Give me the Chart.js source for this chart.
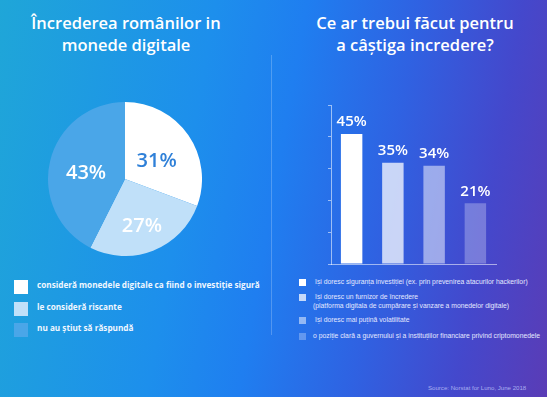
<!DOCTYPE html>
<html>
<head>
<meta charset="utf-8">
<script src="https://cdn.jsdelivr.net/npm/chart.js@4"></script>
<style>
  html, body { margin: 0; padding: 0; }
  body {
    width: 547px; height: 397px; position: relative; overflow: hidden;
    background: linear-gradient(100deg, #1fa6d8 0%, #1d8fec 35%, #1f7ef0 50%, #2f62e2 68%, #4448cc 85%, #5a3cb6 100%);
    font-family: "Open Sans", "DejaVu Sans", sans-serif;
    color: #fff;
  }
  .title { position: absolute; text-align: center; font-size: 16.5px; font-weight: 600; line-height: 22px; }
  #divider { position: absolute; left: 271px; top: 55px; width: 1px; height: 280px; background: rgba(255,255,255,0.22); }
  .box { position: absolute; }
  #pieLegend div, #barLegend div { position: absolute; white-space: nowrap; }
  .lsq { position: absolute; }
  #source { position: absolute; left: 428px; top: 384px; font-family: "Liberation Sans", Arial, sans-serif; font-size: 6.1px; color: #a9aef0; }
</style>
</head>
<body>
<div class="title" style="left:16px; top:12px; width:220px;">Încrederea românilor in<br>monede digitale</div>
<div class="title" style="left:300px; top:12px; width:230px;">Ce ar trebui făcut pentru<br>a câștiga incredere?</div>
<div id="divider"></div>

<div class="box" style="left:48px; top:102px; width:154px; height:154px;"><canvas id="pie"></canvas></div>
<div class="box" style="left:328px; top:95px; width:180px; height:182px;"><canvas id="bar"></canvas></div>

<div id="pieLegend"></div>
<div id="barLegend"></div>
<div id="source">Source: Norstat for Luno, June 2018</div>

<script>
// pie: trust in digital currencies
const pieLabels = [
  'consideră monedele digitale ca fiind o investiție sigură',
  'le consideră riscante',
  'nu au știut să răspundă'
];
const pieValues = [31, 27, 43];
const pieColors = ['#ffffff', '#c0e0f9', '#4aa6e8'];
const pieTextColors = ['#2f80d8', '#ffffff', '#ffffff'];

// bars: what should be done to gain trust
const barLabels = [
  ['își doresc siguranța investiției (ex. prin prevenirea atacurilor hackerilor)'],
  ['își doresc un furnizor de încredere', '(platforma digitala de cumpărare și vanzare a monedelor digitale)'],
  ['își doresc mai puțină volatilitate'],
  ['o poziție clară a guvernului și a instituțiilor financiare privind criptomonedele']
];
const barValues = [45, 35, 34, 21];
const barColors = ['rgba(255,255,255,1)', 'rgba(255,255,255,0.74)', 'rgba(255,255,255,0.5)', 'rgba(255,255,255,0.28)'];

// value labels drawn on top of the marks
const valueLabels = {
  id: 'valueLabels',
  afterDatasetsDraw(chart, args, opts) {
    const ctx = chart.ctx;
    const meta = chart.getDatasetMeta(0);
    ctx.save();
    ctx.font = opts.font;
    ctx.textAlign = 'center';
    ctx.textBaseline = 'middle';
    meta.data.forEach((el, i) => {
      const v = chart.data.datasets[0].data[i];
      let x, y;
      if (chart.config.type === 'pie') {
        const mid = (el.startAngle + el.endAngle) / 2;
        const r = el.outerRadius * opts.radius[i];
        x = el.x + Math.cos(mid) * r;
        y = el.y + Math.sin(mid) * r + 4;
        ctx.fillStyle = opts.colors[i];
      } else {
        x = el.x;
        y = el.y - 12;
        ctx.fillStyle = '#ffffff';
      }
      ctx.fillText(v + '%', x, y);
    });
    ctx.restore();
  }
};

new Chart(document.getElementById('pie'), {
  type: 'pie',
  data: {
    labels: pieLabels,
    datasets: [{ data: pieValues, backgroundColor: pieColors, borderWidth: 0 }]
  },
  options: {
    responsive: true,
    maintainAspectRatio: false,
    animation: false,
    plugins: {
      legend: { display: false },
      tooltip: { enabled: false },
      valueLabels: { font: '600 20px "Open Sans", sans-serif', colors: pieTextColors, radius: [0.5, 0.6, 0.52] }
    }
  },
  plugins: [valueLabels]
});

new Chart(document.getElementById('bar'), {
  type: 'bar',
  data: {
    labels: barLabels.map((l, i) => 'b' + i),
    datasets: [{ data: barValues, backgroundColor: barColors, borderWidth: 0, barPercentage: 0.52, categoryPercentage: 1 }]
  },
  options: {
    responsive: true,
    maintainAspectRatio: false,
    animation: false,
    layout: { padding: { left: 0, right: 12, top: 10, bottom: 5 } },
    scales: {
      x: {
        ticks: { display: false },
        grid: { display: false },
        border: { color: 'rgba(255,255,255,0.55)', width: 1 }
      },
      y: {
        min: 0, max: 55,
        ticks: { display: false, stepSize: 11 },
        grid: { drawOnChartArea: false, drawTicks: true, tickLength: 3, color: 'rgba(255,255,255,0.55)' },
        border: { color: 'rgba(255,255,255,0.55)', width: 1 }
      }
    },
    plugins: {
      legend: { display: false },
      tooltip: { enabled: false },
      valueLabels: { font: '600 15px "Open Sans", sans-serif' }
    }
  },
  plugins: [valueLabels]
});

// html legends
const pieLeg = document.getElementById('pieLegend');
const pieRows = [280, 302, 323];
pieLabels.forEach((t, i) => {
  const sq = document.createElement('div');
  sq.className = 'lsq';
  sq.style.cssText = `left:14px; top:${pieRows[i]}px; width:14px; height:14px; background:${pieColors[i]}`;
  pieLeg.appendChild(sq);
  const tx = document.createElement('div');
  tx.style.cssText = `left:37px; top:${pieRows[i] - 1}px; font-size:8.2px; font-weight:700; color:#f0f7ff; line-height:11px;`;
  tx.textContent = t;
  pieLeg.appendChild(tx);
});

const barLeg = document.getElementById('barLegend');
const barRows = [279, 294, 317, 333];
barLabels.forEach((lines, i) => {
  const sq = document.createElement('div');
  sq.className = 'lsq';
  sq.style.cssText = `left:299px; top:${barRows[i]}px; width:7px; height:7px; background:${barColors[i]}`;
  barLeg.appendChild(sq);
  lines.forEach((t, j) => {
    const tx = document.createElement('div');
    const left = i === 3 ? 313 : (j === 1 ? 313 : 315);
    tx.style.cssText = `left:${left}px; top:${barRows[i] - 2 + j * 9}px; font-family:"Liberation Sans", Arial, sans-serif; font-size:6.8px; color:#e4e8ff; line-height:9px;`;
    tx.textContent = t;
    barLeg.appendChild(tx);
  });
});
</script>
</body>
</html>
